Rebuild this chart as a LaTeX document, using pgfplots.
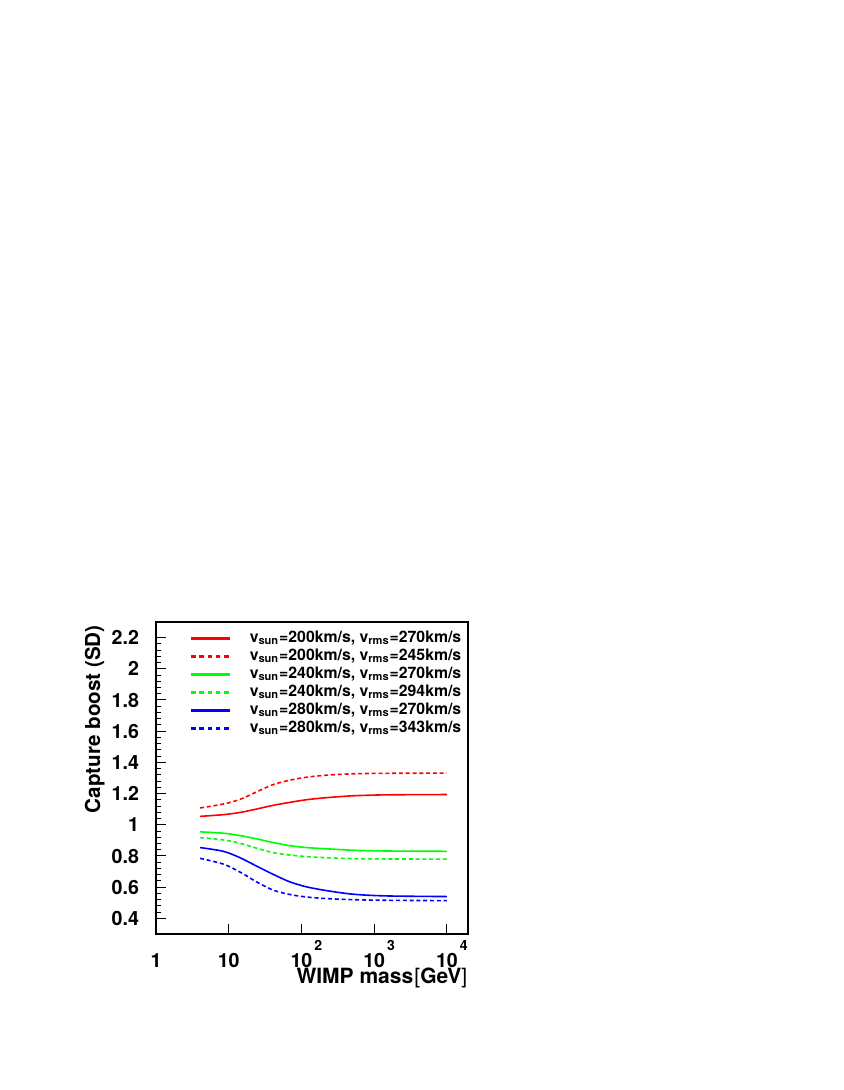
\documentclass[border=0pt]{standalone}
\usepackage{fontspec}
\setmainfont{TeX Gyre Heros}
\usepackage{pgfplots}
\pgfplotsset{compat=1.18}
\usepackage{pgfplotstable}

\pgfplotstableread{
m v
4.03 1.054
8.43 1.065
14.3 1.079
24.2 1.101
41.0 1.125
69.5 1.144
118 1.161
222 1.174
515 1.186
1482 1.192
10000 1.194
}\redsolid
\pgfplotstableread{
m v
4.03 1.108
8.43 1.133
14.3 1.163
24.2 1.211
41.0 1.258
69.5 1.286
118 1.305
222 1.318
515 1.327
1482 1.330
10000 1.331
}\reddash
\pgfplotstableread{
m v
4.03 0.955
8.43 0.946
14.3 0.931
24.2 0.910
41.0 0.886
69.5 0.866
118 0.854
222 0.846
515 0.837
1482 0.832
10000 0.830
}\greensolid
\pgfplotstableread{
m v
4.03 0.918
8.43 0.903
14.3 0.882
24.2 0.850
41.0 0.821
69.5 0.806
118 0.796
222 0.789
515 0.783
1482 0.781
10000 0.780
}\greendash
\pgfplotstableread{
m v
4.03 0.854
8.43 0.830
14.3 0.789
24.2 0.735
41.0 0.682
69.5 0.634
118 0.602
222 0.578
515 0.555
1482 0.544
10000 0.540
}\bluesolid
\pgfplotstableread{
m v
4.03 0.785
8.43 0.748
14.3 0.697
24.2 0.634
41.0 0.581
69.5 0.553
118 0.537
222 0.527
515 0.520
1482 0.516
10000 0.514
}\bluedash

\definecolor{rred}{RGB}{255,0,0}
\definecolor{rgreen}{RGB}{0,255,0}
\definecolor{rblue}{RGB}{0,0,255}

\newcommand{\expo}[1]{\rlap{\hspace{1.0pt}\raisebox{8.3pt}{\fontsize{7pt}{8pt}\selectfont #1}}}

\pgfplotsset{
  solidleg/.style={legend image code/.code={\draw[##1, line width=1.5pt, solid] (0pt,0pt) -- (19.5pt,0pt);}},
  dashleg/.style={legend image code/.code={\draw[##1, line width=1.5pt, dash pattern=on 2.3pt off 1.8pt] (0pt,0pt) -- (19.5pt,0pt);}},
}

\begin{document}
\begin{tikzpicture}
\path[use as bounding box] (0,0) rectangle (421.5pt,545pt);
\begin{axis}[
  at={(78pt,78pt)}, anchor=south west,
  scale only axis, width=156pt, height=156pt,
  xmode=log, log basis x=10,
  xmin=1, xmax=19500, ymin=0.3, ymax=2.3,
  xtick={1,10,100,1000,10000},
  xticklabels={1,10,10\expo{2},10\expo{3},10\expo{4}},
  ytick={0.4,0.6,0.8,1,1.2,1.4,1.6,1.8,2,2.2},
  yticklabels={0.4,0.6,0.8,1,1.2,1.4,1.6,1.8,2,2.2},
  minor y tick num=4,
  tick align=inside, xtick pos=left, ytick pos=left,
  major tick length=5pt, minor tick length=2.5pt,
  axis line style={line width=1pt},
  every tick/.style={black, line width=0.5pt},
  tick label style={font=\bfseries\fontsize{9.8pt}{11pt}\selectfont},
  xticklabel style={anchor=base, yshift=-16.65pt},
  yticklabel style={anchor=east, xshift=-5pt},
  legend cell align=left,
  legend style={draw=none, fill=none, at={(rel axis cs:0.107,0.973)}, anchor=north west,
    font=\bfseries\fontsize{7.9pt}{9pt}\selectfont, inner sep=0pt, row sep=0.9pt,
    nodes={inner sep=0pt, text height=5.9pt, text depth=2.2pt},
    /tikz/every odd column/.append style={column sep=9pt}},
]
\addplot[rred, line width=0.8pt, smooth, solidleg] table[x=m,y=v] {\redsolid};
\addlegendentry{v\textsubscript{sun}=200km/s, v\textsubscript{rms}=270km/s}
\addplot[rred, line width=0.8pt, smooth, dash pattern=on 2pt off 1.4pt, dashleg] table[x=m,y=v] {\reddash};
\addlegendentry{v\textsubscript{sun}=200km/s, v\textsubscript{rms}=245km/s}
\addplot[rgreen, line width=0.8pt, smooth, solidleg] table[x=m,y=v] {\greensolid};
\addlegendentry{v\textsubscript{sun}=240km/s, v\textsubscript{rms}=270km/s}
\addplot[rgreen, line width=0.8pt, smooth, dash pattern=on 2pt off 1.4pt, dashleg] table[x=m,y=v] {\greendash};
\addlegendentry{v\textsubscript{sun}=240km/s, v\textsubscript{rms}=294km/s}
\addplot[rblue, line width=0.8pt, smooth, solidleg] table[x=m,y=v] {\bluesolid};
\addlegendentry{v\textsubscript{sun}=280km/s, v\textsubscript{rms}=270km/s}
\addplot[rblue, line width=0.8pt, smooth, dash pattern=on 2pt off 1.4pt, dashleg] table[x=m,y=v] {\bluedash};
\addlegendentry{v\textsubscript{sun}=280km/s, v\textsubscript{rms}=343km/s}
\end{axis}
\node[rotate=90, anchor=base east, font=\bfseries\fontsize{10.3pt}{12pt}\selectfont, inner sep=0pt] at (50pt,232.5pt) {Capture boost (SD)};
\node[anchor=base east, font=\bfseries\fontsize{10.5pt}{12pt}\selectfont, inner sep=0pt] at (233.8pt,53.4pt) {WIMP mass\textmd{\hspace{0.6pt}[}GeV\textmd{]}};
\end{tikzpicture}
\end{document}
